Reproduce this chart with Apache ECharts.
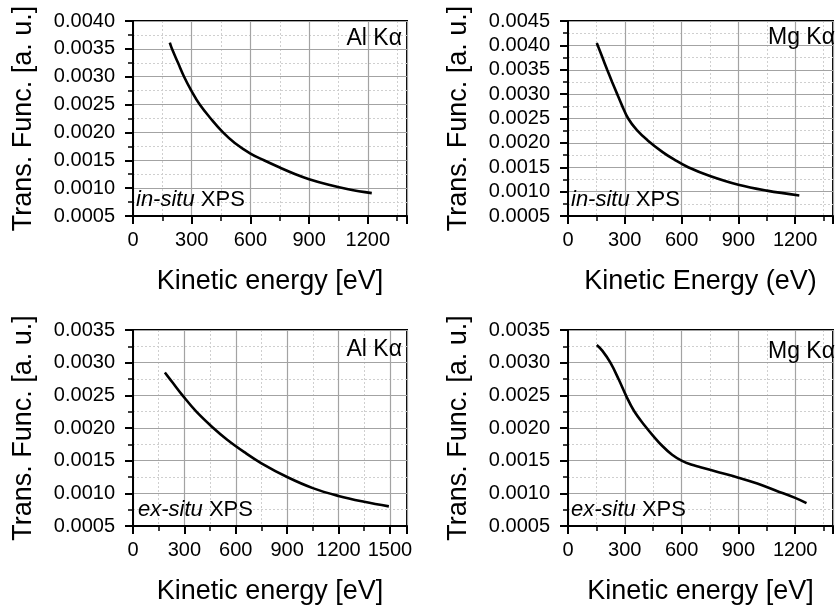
<!DOCTYPE html>
<html>
<head>
<meta charset="utf-8">
<script src="https://cdn.jsdelivr.net/npm/echarts@6/dist/echarts.min.js"></script>
<style>
html,body{margin:0;padding:0;background:#fff;}
#c{width:836px;height:611px;}
</style>
</head>
<body>
<div id="c"></div>
<script>
// ---------------- data ----------------
const inSituAlX = [188, 199, 230, 261, 298, 341, 397, 460, 520, 600, 669, 750, 830, 900, 1000, 1100, 1220];
const inSituAlY = [0.00361, 0.0035, 0.00325, 0.0030, 0.00275, 0.0025, 0.00225, 0.0020, 0.00181, 0.00162, 0.0015, 0.00137, 0.00125, 0.00116, 0.00106, 0.00098, 0.00091];

const inSituMgX = [152, 182, 207, 233, 260, 284, 318, 364, 421, 500, 560, 635, 750, 900, 1050, 1222];
const inSituMgY = [0.00405, 0.00375, 0.0035, 0.00325, 0.0030, 0.00278, 0.0025, 0.00226, 0.00205, 0.00181, 0.00166, 0.0015, 0.00132, 0.00114, 0.00102, 0.00092];

const exSituAlX = [186, 230, 289, 370, 469, 550, 650, 750, 900, 1050, 1200, 1350, 1494];
const exSituAlY = [0.00285, 0.0027, 0.0025, 0.00225, 0.0020, 0.00182, 0.00163, 0.00146, 0.00125, 0.00108, 0.00096, 0.00087, 0.0008];

const exSituMgX = [152, 182, 224, 267, 306, 349, 407, 450, 500, 550, 600, 650, 700, 800, 900, 1000, 1100, 1200, 1260];
const exSituMgY = [0.00327, 0.00318, 0.0030, 0.00275, 0.0025, 0.00226, 0.00203, 0.00188, 0.00172, 0.00159, 0.0015, 0.00144, 0.0014, 0.00132, 0.00124, 0.00115, 0.00104, 0.00093, 0.00085];

// axis ranges / ticks
const xRangeTop = [0, 1400];
const xRangeBottomLeft = [0, 1600];
const xRangeBottomRight = [0, 1400];
const xMajorStep = 300;
const xMinorStep = 150;
const xTickLabels = ['0', '300', '600', '900', '1200', '1500'];
const yRangeTopLeft = [0.0005, 0.0040];
const yRangeTopRight = [0.0005, 0.0045];
const yRangeBottom = [0.0005, 0.0035];
const yStep = 0.0005;

// texts
const yTitle = 'Trans. Func. [a. u.]';
const xTitleA = 'Kinetic energy [eV]';
const xTitleB = 'Kinetic Energy (eV)';
const envInSitu = 'in-situ';
const envExSitu = 'ex-situ';
const srcAl = 'Al Kα';
const srcMg = 'Mg Kα';

// ---------------- layout ----------------
const FONT = "'Liberation Sans', Arial, Helvetica, sans-serif";
const panels = [
  {rect: {left: 133, top: 21, width: 274, height: 195}, xr: xRangeTop, yr: yRangeTopLeft,
   xs: inSituAlX, ys: inSituAlY, xTitle: xTitleA, env: envInSitu, src: srcAl, envDx: 3, srcDy: 6, srcRight: 402},
  {rect: {left: 568, top: 21, width: 273, height: 195}, xr: xRangeTop, yr: yRangeTopRight,
   xs: inSituMgX, ys: inSituMgY, xTitle: xTitleB, env: envInSitu, src: srcMg, envDx: 3, srcDy: 5, srcRight: 835},
  {rect: {left: 133, top: 330, width: 274, height: 196}, xr: xRangeBottomLeft, yr: yRangeBottom,
   xs: exSituAlX, ys: exSituAlY, xTitle: xTitleA, env: envExSitu, src: srcAl, envDx: 5, srcDy: 8, srcRight: 402},
  {rect: {left: 568, top: 330, width: 273, height: 196}, xr: xRangeBottomRight, yr: yRangeBottom,
   xs: exSituMgX, ys: exSituMgY, xTitle: xTitleA, env: envExSitu, src: srcMg, envDx: 3, srcDy: 10, srcRight: 835}
];

const MAJOR_GRID = '#a3a3a3';
const MINOR_GRID = '#cfcfcf';

const option = {
  animation: false,
  backgroundColor: '#fff',
  grid: [], xAxis: [], yAxis: [], series: [], graphic: []
};

panels.forEach((p, i) => {
  option.grid.push(Object.assign({
    show: true, borderColor: '#000', borderWidth: 2, backgroundColor: 'transparent',
    containLabel: false
  }, p.rect));

  // major x axis
  option.xAxis.push({
    type: 'value', gridIndex: i, position: 'bottom',
    min: p.xr[0], max: p.xr[1], interval: xMajorStep,
    name: p.xTitle, nameLocation: 'middle', nameGap: 52,
    nameTextStyle: {fontFamily: FONT, fontSize: 27, color: '#000'},
    axisLine: {show: true, onZero: false, lineStyle: {color: '#000', width: 2}},
    axisTick: {show: true, inside: false, length: 8, lineStyle: {color: '#000', width: 2}},
    axisLabel: {
      show: true, margin: 14, fontFamily: FONT, fontSize: 20, color: '#000',
      formatter: v => (xTickLabels.indexOf(String(v)) >= 0 ? String(v) : '')
    },
    splitLine: {show: true, lineStyle: {color: MAJOR_GRID, width: 1.2, type: 'solid'}},
    z: 3
  });
  // minor x axis (ticks + dotted grid)
  option.xAxis.push({
    type: 'value', gridIndex: i, position: 'bottom',
    min: p.xr[0], max: p.xr[1], interval: xMinorStep,
    axisLine: {show: false, onZero: false},
    axisTick: {show: true, inside: false, length: 5, lineStyle: {color: '#000', width: 1.5}},
    axisLabel: {show: false},
    splitLine: {show: true, lineStyle: {color: ['rgba(0,0,0,0)', MINOR_GRID], width: 1, type: [2, 2]}},
    z: 2
  });

  option.yAxis.push({
    type: 'value', gridIndex: i, position: 'left',
    min: p.yr[0], max: p.yr[1], interval: yStep,
    name: yTitle, nameLocation: 'middle', nameGap: 96, nameRotate: 90,
    nameTextStyle: {fontFamily: FONT, fontSize: 27, color: '#000'},
    axisLine: {show: true, onZero: false, lineStyle: {color: '#000', width: 2}},
    axisTick: {show: true, inside: false, length: 8, lineStyle: {color: '#000', width: 2}},
    minorTick: {show: true, splitNumber: 2, length: 5, lineStyle: {color: '#000', width: 1.5}},
    axisLabel: {
      show: true, margin: 18, fontFamily: FONT, fontSize: 20, color: '#000',
      formatter: v => v.toFixed(4)
    },
    splitLine: {show: true, lineStyle: {color: MAJOR_GRID, width: 1.2, type: 'solid'}},
    minorSplitLine: {show: true, lineStyle: {color: MINOR_GRID, width: 1, type: [2, 2]}},
    z: 3
  });

  option.series.push({
    type: 'line', xAxisIndex: 2 * i, yAxisIndex: i,
    data: p.xs.map((x, k) => [x, p.ys[k]]),
    showSymbol: false, smooth: 0.4,
    lineStyle: {color: '#000', width: 2.6},
    clip: true, z: 5
  });

  const bottom = p.rect.top + p.rect.height;
  option.graphic.push({
    type: 'text', x: p.rect.left + p.envDx, y: bottom - 27, z: 10,
    style: {
      text: '{i|' + p.env + '} XPS',
      fontFamily: FONT, fontSize: 22, fill: '#000',
      align: 'left', verticalAlign: 'top',
      rich: {i: {fontFamily: FONT, fontSize: 22, fontStyle: 'italic', fill: '#000'}}
    }
  });
  option.graphic.push({
    type: 'text', x: p.srcRight, y: p.rect.top + p.srcDy, z: 10,
    style: {
      text: p.src, fontFamily: FONT, fontSize: 23, fill: '#000',
      align: 'right', verticalAlign: 'top'
    }
  });
});

const chart = echarts.init(document.getElementById('c'), null, {renderer: 'canvas'});
chart.setOption(option);
</script>
</body>
</html>
